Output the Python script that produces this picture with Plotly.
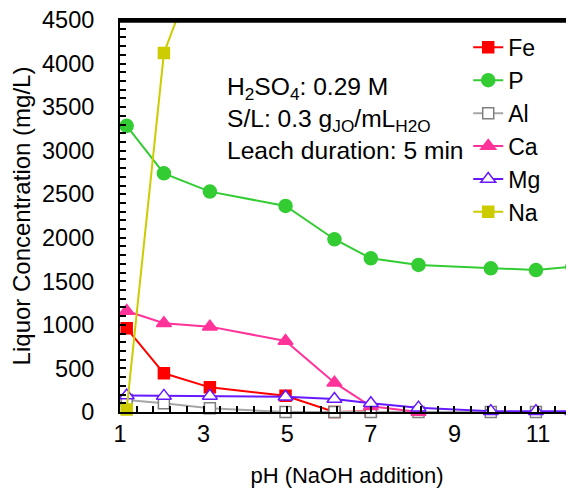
import plotly.graph_objects as go

ph = [1.16, 2.05, 3.15, 4.96, 6.13, 7.0, 8.14, 9.87, 10.95, 11.82]

fe = [961, 444, 283, 187, 0, 10]
p = [3285, 2740, 2530, 2365, 1983, 1764, 1688, 1650, 1630, 1668]
al = [138, 100, 42, 0, 0, 0, 0, 0, 0, 0]
ca = [1160, 1018, 980, 815, 337, 65, 0]
mg = [190, 185, 185, 175, 150, 100, 50, 10, 10, 10]
na = [30, 4120, 5520]

series = [
    ("Fe", fe, "#FF0000", "square", "#FF0000", "#FF0000", 11),
    ("P", p, "#33CC33", "circle", "#33CC33", "#33CC33", 13),
    ("Al", al, "#A6A6A6", "square", "#FFFFFF", "#7F7F7F", 11),
    ("Ca", ca, "#FF3399", "triangle-up", "#FF3399", "#FF3399", 13),
    ("Mg", mg, "#6619FF", "triangle-up", "#FFFFFF", "#6619FF", 13),
    ("Na", na, "#CCCC00", "square", "#CCCC00", "#CCCC00", 11),
]

FONT = "Liberation Sans, Arial, sans-serif"

fig = go.Figure()
for name, vals, lc, sym, fill, edge, size in series:
    fig.add_trace(go.Scatter(
        x=ph[:len(vals)], y=vals, name=name, mode="lines+markers",
        line=dict(color=lc, width=2),
        marker=dict(symbol=sym, size=size, color=fill,
                    line=dict(color=edge, width=1.5)),
        cliponaxis=False,
    ))

fig.add_annotation(
    x=0.232, y=0.87, xref="paper", yref="paper", xanchor="left", yanchor="top",
    align="left", showarrow=False,
    text="H<sub>2</sub>SO<sub>4</sub>: 0.29 M<br>S/L: 0.3 g<sub>JO</sub>/mL<sub>H2O</sub><br>Leach duration: 5 min",
    font=dict(family=FONT, size=24.6, color="#000000"),
)

# top frame line of the plot area (drawn slightly inside the top edge)
fig.add_shape(type="line", xref="paper", yref="paper", x0=-0.002, x1=1.02,
              y0=0.997, y1=0.997, line=dict(color="#000000", width=3),
              layer="above")

# page body has an 8px margin: figure is sized to fit the 574x491 window
fig.update_layout(
    width=566, height=483,
    margin=dict(l=112, r=0, t=12, b=79),
    paper_bgcolor="white", plot_bgcolor="white",
    font=dict(family=FONT, size=23, color="#000000"),
    showlegend=True,
    legend=dict(x=0.767, y=0.985, xanchor="left", yanchor="top",
                bgcolor="rgba(0,0,0,0)", font=dict(size=23),
                itemwidth=30, tracegroupgap=0),
    xaxis=dict(
        range=[1, 11.86], tick0=1, dtick=2, ticks="inside", ticklen=6,
        tickwidth=1.5, tickcolor="black", showline=True, linecolor="black",
        linewidth=2, mirror=True, showgrid=False, zeroline=False,
        tickfont=dict(size=23.5), ticklabeloverflow="allow",
        minor=dict(tick0=1, dtick=0.4, ticks="inside", ticklen=6,
                   tickwidth=1.5, tickcolor="black"),
        title=dict(text="pH (NaOH addition)", font=dict(size=22), standoff=21),
    ),
    yaxis=dict(
        range=[0, 4500], dtick=500, ticks="inside", ticklen=6,
        tickwidth=1.5, tickcolor="black", showline=True, linecolor="black",
        linewidth=2, showgrid=False, zeroline=False,
        tickfont=dict(size=23.5), ticklabelstandoff=19, ticklabeloverflow="allow",
        minor=dict(dtick=100, ticks="inside", ticklen=6,
                   tickwidth=1.5, tickcolor="black"),
        title=dict(text="Liquor Concentration (mg/L)", font=dict(size=24), standoff=7),
    ),
)

fig.write_html("out.html")
